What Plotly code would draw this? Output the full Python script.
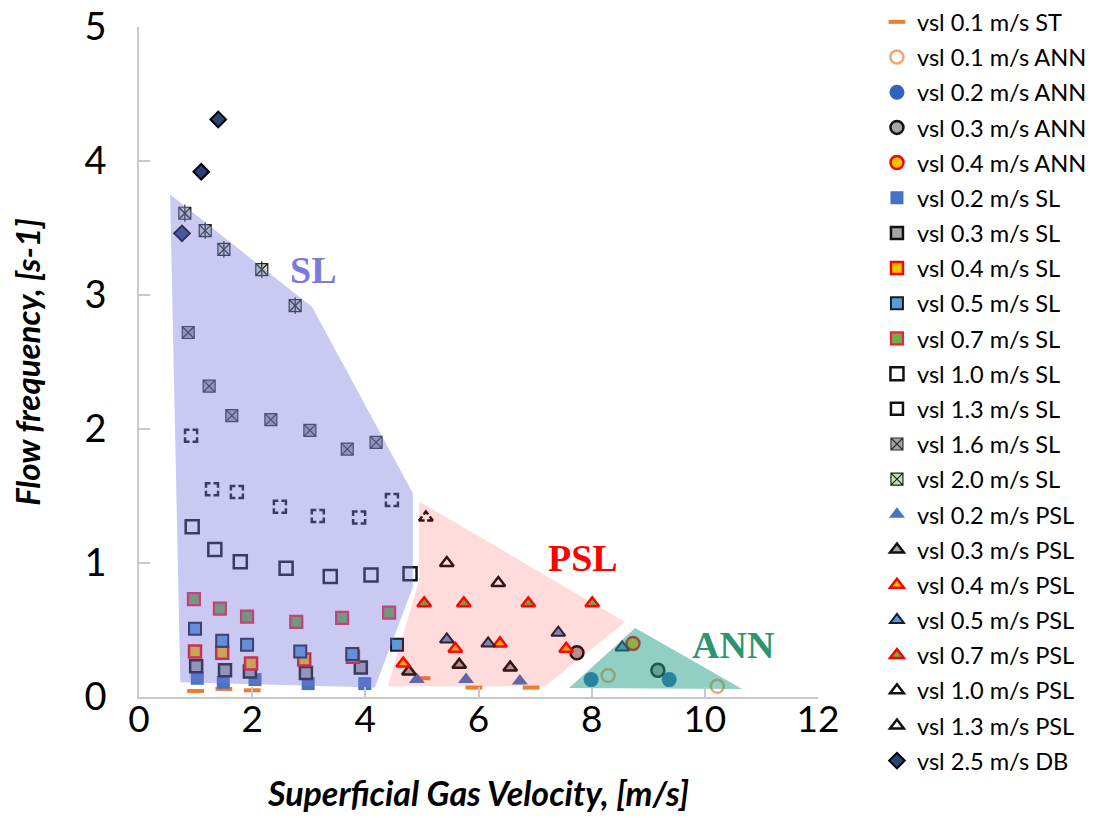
import plotly.graph_objects as go

# ---- measured points: superficial gas velocity (m/s) vs flow frequency (1/s) ----
st01_x = [1.0, 1.5, 2.0, 5.0, 5.92, 6.93]
st01_y = [0.045, 0.06, 0.05, 0.14, 0.07, 0.07]

ann01_x = [8.29, 10.22]
ann01_y = [0.16, 0.08]
ann02_x = [7.99, 9.37]
ann02_y = [0.13, 0.13]
ann03_x = [7.74, 9.17]
ann03_y = [0.33, 0.20]
ann04_x = [8.73]
ann04_y = [0.40]

sl02_x = [1.03, 1.49, 2.05, 2.99, 3.99]
sl02_y = [0.14, 0.11, 0.13, 0.10, 0.10]
sl03_x = [1.01, 1.52, 1.96, 2.95, 3.92]
sl03_y = [0.23, 0.20, 0.19, 0.18, 0.22]
sl04_x = [0.99, 1.47, 1.98, 2.92, 3.78]
sl04_y = [0.34, 0.33, 0.25, 0.28, 0.30]
sl05_x = [0.99, 1.47, 1.91, 2.85, 3.77, 4.56]
sl05_y = [0.51, 0.42, 0.39, 0.34, 0.32, 0.39]
sl07_x = [0.97, 1.43, 1.91, 2.78, 3.59, 4.42]
sl07_y = [0.73, 0.66, 0.60, 0.56, 0.59, 0.63]
sl10_x = [0.94, 1.34, 1.79, 2.60, 3.38, 4.10, 4.79]
sl10_y = [1.27, 1.10, 1.01, 0.96, 0.90, 0.91, 0.92]
sl13_x = [0.92, 1.29, 1.73, 2.49, 3.16, 3.89, 4.47]
sl13_y = [1.95, 1.55, 1.53, 1.42, 1.35, 1.34, 1.47]
sl16_x = [0.87, 1.24, 1.64, 2.33, 3.02, 3.68, 4.19]
sl16_y = [2.72, 2.32, 2.10, 2.07, 1.99, 1.85, 1.90]
sl20_x = [0.81, 1.17, 1.50, 2.17, 2.76]
sl20_y = [3.61, 3.48, 3.34, 3.19, 2.92]

psl02_x = [4.91, 5.78, 6.73]
psl02_y = [0.13, 0.13, 0.12]
psl03_x = [4.77, 5.66, 6.56]
psl03_y = [0.19, 0.24, 0.22]
psl04_x = [4.67, 5.59, 6.38, 7.55]
psl04_y = [0.25, 0.36, 0.40, 0.36]
psl05_x = [5.44, 6.17, 7.41, 8.54]
psl05_y = [0.43, 0.40, 0.48, 0.37]
psl07_x = [5.04, 5.74, 6.88, 8.01]
psl07_y = [0.70, 0.70, 0.70, 0.70]
psl10_x = [5.44, 6.35]
psl10_y = [1.00, 0.85]
psl13_x = [5.07]
psl13_y = [1.34]

db25_x = [0.76, 1.10, 1.40]
db25_y = [3.46, 3.92, 4.31]

# ---- flow-regime boundaries ----
sl_region_x = [0.55, 3.06, 4.84, 4.84, 4.17, 0.73]
sl_region_y = [3.75, 2.91, 1.52, 0.82, 0.07, 0.11]
psl_region_x = [4.95, 8.59, 7.18, 4.40, 4.95]
psl_region_y = [1.46, 0.56, 0.08, 0.08, 0.87]
ann_region_x = [8.77, 10.66, 7.60]
ann_region_y = [0.515, 0.06, 0.067]

x_ticks = [0, 2, 4, 6, 8, 10, 12]
y_ticks = [0, 1, 2, 3, 4, 5]

FONT = "Lato"
fig = go.Figure()


def add_series(name, xs, ys, symbol, size, fill, line_color=None, line_width=0, extra=None):
    fig.add_trace(go.Scatter(
        x=xs, y=ys, mode="markers", name=name, legendgroup=name,
        marker=dict(symbol=symbol, size=size, color=fill,
                    line=dict(color=line_color or fill, width=line_width)),
        hoverinfo="x+y+name",
    ))
    # extra glyph layers drawn on the same points (not shown in the legend)
    for sym, sz, col, w in (extra or []):
        fig.add_trace(go.Scatter(
            x=xs, y=ys, mode="markers", legendgroup=name, showlegend=False,
            marker=dict(symbol=sym, size=sz, color=col, line=dict(color=col, width=w)),
            hoverinfo="skip",
        ))


add_series("vsl 0.1 m/s ST", st01_x, st01_y, "line-ew-open", 12, "#ed7d31", "#ed7d31", 4)
add_series("vsl 0.1 m/s ANN", ann01_x, ann01_y, "circle-open", 13, "#f4a46e", "#f4a46e", 2.5)
add_series("vsl 0.2 m/s ANN", ann02_x, ann02_y, "circle", 15, "#2f64b8", "#2f64b8", 0)
add_series("vsl 0.3 m/s ANN", ann03_x, ann03_y, "circle", 13, "#a5a5a5", "#111111", 2.5)
add_series("vsl 0.4 m/s ANN", ann04_x, ann04_y, "circle", 13, "#ffc000", "#ff0000", 2.5)
add_series("vsl 0.2 m/s SL", sl02_x, sl02_y, "square", 13, "#4472c4")
add_series("vsl 0.3 m/s SL", sl03_x, sl03_y, "square", 12, "#a5a5a5", "#111111", 2.5)
add_series("vsl 0.4 m/s SL", sl04_x, sl04_y, "square", 12, "#ffc000", "#ff0000", 2.5)
add_series("vsl 0.5 m/s SL", sl05_x, sl05_y, "square", 12, "#5b9bd5", "#1a1a2e", 2)
add_series("vsl 0.7 m/s SL", sl07_x, sl07_y, "square", 12, "#70ad47", "#f0203a", 2.2)
add_series("vsl 1.0 m/s SL", sl10_x, sl10_y, "square", 13, "#ffffff", "#111111", 2.5)
add_series("vsl 1.3 m/s SL", sl13_x, sl13_y, "square", 12, "#ffffff", "#111111", 2.5,
           extra=[("cross-thin-open", 11, "#ffffff", 3)])
add_series("vsl 1.6 m/s SL", sl16_x, sl16_y, "square-x", 12, "#a5a5a5", "#303030", 1.2)
add_series("vsl 2.0 m/s SL", sl20_x, sl20_y, "square-x", 12, "#c5e0b4", "#202020", 1.2,
           extra=[("line-ns-open", 12, "#202020", 1.2)])
add_series("vsl 0.2 m/s PSL", psl02_x, psl02_y, "triangle-up", 14, "#4472c4")
add_series("vsl 0.3 m/s PSL", psl03_x, psl03_y, "triangle-up", 12, "#a5a5a5", "#111111", 2.5)
add_series("vsl 0.4 m/s PSL", psl04_x, psl04_y, "triangle-up", 12, "#ffc000", "#ff0000", 2.5)
add_series("vsl 0.5 m/s PSL", psl05_x, psl05_y, "triangle-up", 12, "#5b9bd5", "#1a1a2e", 2)
add_series("vsl 0.7 m/s PSL", psl07_x, psl07_y, "triangle-up", 12, "#70ad47", "#ff0000", 2.5)
add_series("vsl 1.0 m/s PSL", psl10_x, psl10_y, "triangle-up", 12, "#ffffff", "#111111", 2.5)
add_series("vsl 1.3 m/s PSL", psl13_x, psl13_y, "triangle-up", 12, "#ffffff", "#111111", 2.5,
           extra=[("y-down-open", 9, "#ffffff", 2.5)])
add_series("vsl 2.5 m/s DB", db25_x, db25_y, "diamond", 12, "#264478", "#000000", 2)

# translucent regime regions laid over the points
for rx, ry, col in [
    (sl_region_x, sl_region_y, "rgba(120,120,220,0.40)"),
    (psl_region_x, psl_region_y, "rgba(255,40,30,0.16)"),
    (ann_region_x, ann_region_y, "rgba(35,160,135,0.50)"),
]:
    fig.add_trace(go.Scatter(
        x=rx + rx[:1], y=ry + ry[:1], mode="lines", fill="toself", fillcolor=col,
        line=dict(width=0), showlegend=False, hoverinfo="skip",
    ))

for text, ax, ay, col in [("SL", 3.08, 3.19, "#7a7ade"),
                          ("PSL", 7.85, 1.04, "#ff0000"),
                          ("ANN", 10.5, 0.39, "#2e9470")]:
    fig.add_annotation(x=ax, y=ay, text=text, showarrow=False,
                       font=dict(family="Liberation Serif", size=38, color=col, weight="bold"))

axis_grey = "#c8c8c8"
fig.update_layout(
    width=1094, height=818,
    margin=dict(l=139, r=276, t=27, b=121, autoexpand=False),
    paper_bgcolor="white", plot_bgcolor="white",
    font=dict(family=FONT, color="#000000"),
    xaxis=dict(range=[0, 12], tickvals=x_ticks, showgrid=False, zeroline=False,
               showline=True, linecolor=axis_grey, linewidth=1.5,
               ticks="inside", ticklen=10, tickcolor=axis_grey, tickwidth=1.5,
               tickfont=dict(size=37, family=FONT), ticklabelstandoff=-11,
               title=dict(text="Superficial Gas Velocity, [m/s]", standoff=43,
                          font=dict(size=34, family=FONT, weight="bold", style="italic")),
               automargin=False),
    yaxis=dict(range=[0, 5], tickvals=y_ticks, showgrid=False, zeroline=False,
               showline=True, linecolor=axis_grey, linewidth=1.5,
               ticks="inside", ticklen=11, tickcolor=axis_grey, tickwidth=1.5,
               tickfont=dict(size=38, family=FONT), ticklabelstandoff=23,
               title=dict(text="Flow frequency, [s-1]", standoff=34,
                          font=dict(size=33, family=FONT, weight="bold", style="italic")),
               automargin=False),
    xaxis2=dict(overlaying="x", anchor="y", side="bottom", range=[0, 12], tickvals=x_ticks,
                showticklabels=False, showgrid=False, zeroline=False, showline=False,
                ticks="outside", ticklen=12, tickcolor=axis_grey, tickwidth=1.5),
    yaxis2=dict(overlaying="y", anchor="x", side="left", range=[0, 5], tickvals=y_ticks,
                showticklabels=False, showgrid=False, zeroline=False, showline=False,
                ticks="outside", ticklen=11, tickcolor=axis_grey, tickwidth=1.5),
    legend=dict(xref="container", yref="container", x=0.8016, y=1.0,
                xanchor="left", yanchor="top", font=dict(size=23.6, family=FONT),
                tracegroupgap=1.5, maxheight=818, bgcolor="rgba(0,0,0,0)", itemclick=False),
    showlegend=True,
)

fig.write_html("out.html")
